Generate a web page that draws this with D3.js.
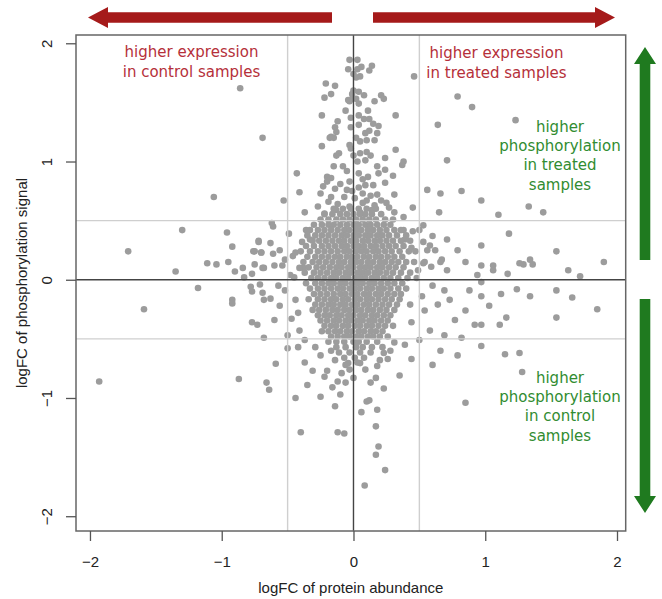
<!DOCTYPE html>
<html>
<head>
<meta charset="utf-8">
<script src="https://cdn.jsdelivr.net/npm/d3@7"></script>
<style>
  html, body { margin: 0; padding: 0; background: #fff; }
  svg { display: block; }
</style>
</head>
<body>
<svg id="chart" width="662" height="599"></svg>
<script>
// ---------------- DATA ----------------
const xTicks = [-2, -1, 0, 1, 2];
const yTicks = [-2, -1, 0, 1, 2];
const xLabel = "logFC of protein abundance";
const yLabel = "logFC of phosphorylation signal";
const cutoffs = [-0.5, 0.5];

const labelControlExpr = ["higher expression", "in control samples"];
const labelTreatedExpr = ["higher expression", "in treated samples"];
const labelTreatedPhos = ["higher", "phosphorylation", "in treated", "samples"];
const labelControlPhos = ["higher", "phosphorylation", "in control", "samples"];

// scattered points [logFC protein, logFC phospho]
const sparsePoints = [
  [-0.86,1.62],[-0.69,1.20],[-1.06,0.70],[-1.71,0.24],[-1.30,0.42],[-1.35,0.07],[-1.59,-0.25],[-1.93,-0.86],
  [-1.18,-0.07],[-1.11,0.14],[-1.04,0.13],[-0.95,0.15],[-0.92,0.28],[-0.96,0.40],[-0.90,0.07],[-0.84,0.10],
  [-0.83,0.02],[-0.77,0.05],[-0.75,0.13],[-0.69,0.10],[-0.76,0.24],[-0.70,0.23],[-0.72,0.32],[-0.92,-0.17],
  [-0.92,-0.20],[-0.78,-0.06],[-0.77,-0.10],[-0.71,-0.04],[-0.69,-0.11],[-0.68,-0.17],[-0.77,-0.36],[-0.73,-0.38],
  [-0.68,-0.49],[-0.87,-0.84],[-0.66,-0.87],[-0.64,-0.93],
  [-0.40,-1.29],[-0.12,-1.29],[-0.07,-1.30],[0.085,-1.74],[0.24,-1.61],[0.17,-1.48],[0.19,-1.41],[0.17,-1.24],
  [0.06,-1.12],[0.10,-1.03],[0.12,-1.02],[0.18,-1.10],[-0.14,-1.07],[-0.25,-0.99],[-0.10,-0.97],[-0.44,-1.00],
  [-0.35,-0.89],[-0.16,-0.91],[-0.12,-0.86],[-0.06,-0.87],[-0.59,-0.71],[0.23,-0.92],[0.13,-0.87],[0.17,-0.83],
  [0.35,-0.81],[0.60,-0.72],[0.44,-0.67],[0.26,-0.67],[0.23,-0.62],[-0.37,-0.70],[-0.31,-0.77],[-0.22,-0.82],
  [-0.20,-0.77],[-0.03,-0.76],[0.00,-0.83],[-0.50,-0.58],[-0.42,-0.57],
  [-0.25,-0.64],[-0.14,-0.68],[0.20,-0.68],[0.28,-0.60],[-0.06,-0.72],[0.09,-0.76],[0.03,-0.70],
  [-0.17,-0.60],[0.18,-0.73],[-0.09,-0.79],[0.31,-0.53],[-0.29,-0.57],
  [-0.03,1.86],[0.03,1.86],[-0.04,1.78],[0.03,1.78],[0.06,1.80],[0.14,1.81],[0.12,1.77],[0.46,1.72],
  [0.00,1.74],[0.02,1.71],[0.05,1.72],[-0.21,1.66],[-0.14,1.64],[-0.17,1.57],[-0.22,1.54],[0.00,1.60],
  [-0.01,1.57],[0.04,1.59],[0.08,1.56],[-0.04,1.52],[-0.01,1.53],[-0.03,1.51],[0.02,1.53],[0.04,1.49],
  [0.21,1.56],[0.23,1.53],[0.16,1.51],[0.11,1.43],[-0.06,1.43],[-0.02,1.37],[0.04,1.39],[0.08,1.36],
  [0.12,1.36],[0.32,1.39],[-0.24,1.39],[-0.12,1.34],[-0.14,1.29],[-0.02,1.29],[0.04,1.31],[0.15,1.32],
  [0.19,1.30],[0.12,1.26],[0.09,1.24],[0.18,1.24],[-0.17,1.21],[-0.13,1.25],[-0.15,1.20],[-0.18,1.20],
  [0.02,1.20],[0.05,1.17],[0.10,1.18],[0.16,1.18],[-0.03,1.14],[-0.02,1.11],[-0.24,1.13],[0.32,1.10],
  [-0.11,1.07],[-0.13,1.05],[0.00,1.05],[0.05,1.07],[0.10,1.08],[0.13,1.05],[0.24,1.03],[0.09,1.01],
  [0.03,1.00],[0.38,1.00],[0.37,0.97],[0.18,0.96],[-0.15,0.96],[-0.08,0.96],[-0.43,0.90],[-0.20,0.87],
  [0.24,0.93],[0.30,0.88],[0.04,0.90],[0.11,0.87],[-0.20,0.83],[-0.03,0.83],[0.09,0.80],[0.24,0.82],
  [-0.23,0.79],[-0.14,0.77],[-0.05,0.76],[-0.41,0.74],[-0.25,0.73],[0.07,0.73],[0.18,0.72],[0.31,0.72],
  [-0.53,0.67],[-0.17,0.70],[0.01,0.69],[0.10,0.67],[0.21,0.67],[0.45,0.61],[-0.37,0.57],[-0.22,0.56],
  [-0.13,0.59],[-0.03,0.62],[0.05,0.57],[0.14,0.59],[0.31,0.57],[0.25,0.65],[0.38,0.53],
  [-0.12,0.64],[0.07,0.65],[-0.19,0.66],[0.16,0.63],[-0.07,0.70],[0.13,0.71],[-0.01,0.75],[0.04,0.78],
  [-0.10,0.81],[0.15,0.80],[-0.17,0.86],[0.07,0.85],[-0.05,0.92],[0.19,0.90],[-0.27,0.62],[0.27,0.61],
  [-0.62,0.48],[-0.61,0.45],[-0.72,0.33],[-0.63,0.31],[-0.75,0.24],[-0.70,0.23],[-0.61,0.22],[-0.56,0.25],
  [-0.68,0.10],[-0.60,0.12],[-0.52,0.17],[-0.49,0.39],[-0.46,0.20],[-0.39,0.32],[-0.36,0.42],[-0.33,0.34],
  [-0.45,0.02],[-0.38,0.10],
  [0.38,0.42],[0.45,0.41],[0.53,0.46],[0.53,0.32],[0.60,0.37],[0.56,0.25],[0.62,0.25],[0.67,0.17],
  [0.59,0.11],[0.53,0.14],[0.71,0.08],
  [0.64,1.31],[0.56,0.76],[0.66,0.73],[0.65,0.57],[0.71,1.01],[0.79,1.55],[0.90,1.46],[1.23,1.35],
  [0.82,0.75],[0.97,0.67],[1.10,0.55],[1.33,0.62],[1.44,0.57],
  [1.18,0.39],[0.97,0.29],[1.54,0.24],[0.97,0.12],[1.06,0.12],[1.06,0.08],[1.17,0.05],[1.26,0.14],
  [1.29,0.13],[1.34,0.17],[1.36,0.13],[1.63,0.08],[1.72,0.03],[1.90,0.15],
  [0.97,-0.02],[0.97,-0.14],[1.03,-0.22],[1.12,-0.12],[1.24,-0.08],[1.34,-0.14],[1.54,-0.09],[1.66,-0.15],
  [1.85,-0.25],[0.97,-0.38],[1.11,-0.38],[1.16,-0.32],[1.54,-0.32],[0.97,-0.56],[1.15,-0.63],[1.26,-0.62],
  [1.28,-0.78],[0.85,-1.04],
  [0.39,0.34],[0.44,0.27],[0.50,0.42],[0.54,0.15],[0.58,0.29],[0.66,0.15],[0.49,0.08],[0.60,-0.05],
  [0.69,-0.09],[0.73,-0.17],[0.64,-0.21],[0.54,-0.26],[0.77,-0.34],[0.85,-0.26],[0.88,-0.09],[0.94,0.04],
  [0.85,0.15],[0.79,0.25],[0.71,0.34],[0.52,-0.14],[0.43,-0.21],[0.44,-0.36],[0.58,-0.43],[0.69,-0.47],
  [0.82,-0.49],[0.92,-0.38],[0.50,-0.51],[0.39,-0.55],[0.66,-0.60],[0.79,-0.64],
  [-0.48,0.04],[-0.52,-0.09],[-0.44,-0.17],[-0.56,-0.22],[-0.47,-0.33],[-0.60,-0.34],[-0.41,-0.43],[-0.50,-0.47],
  [-0.37,-0.51],[-0.42,-0.28],[-0.57,-0.05],[-0.63,-0.16],[-0.54,0.12],[-0.44,0.23],[-0.41,0.10]
];

// dense core, listed row by row: [logFC phospho, [logFC protein values]]
const coreRows = [
  [0.60,  [-0.15,-0.08,-0.02,0.04,0.10,0.17]],
  [0.555, [-0.22,-0.16,-0.10,-0.05,0.00,0.05,0.09,0.14,0.21]],
  [0.51,  [-0.25,-0.19,-0.13,-0.08,-0.03,0.02,0.07,0.12,0.17,0.24,0.30]],
  [0.465, [-0.30,-0.24,-0.19,-0.15,-0.10,-0.05,0.00,0.04,0.09,0.13,0.18,0.23,0.28]],
  [0.42,  [-0.33,-0.27,-0.22,-0.17,-0.12,-0.07,-0.03,0.02,0.06,0.11,0.15,0.20,0.25,0.31,0.36]],
  [0.375, [-0.35,-0.29,-0.24,-0.19,-0.14,-0.09,-0.05,0.00,0.04,0.09,0.13,0.18,0.22,0.27,0.33,0.40]],
  [0.33,  [-0.31,-0.26,-0.21,-0.16,-0.11,-0.07,-0.02,0.02,0.07,0.11,0.16,0.20,0.25,0.30,0.36,0.43]],
  [0.285, [-0.36,-0.30,-0.24,-0.19,-0.14,-0.09,-0.05,0.00,0.04,0.08,0.13,0.17,0.22,0.27,0.32,0.38]],
  [0.24,  [-0.40,-0.33,-0.27,-0.22,-0.17,-0.12,-0.07,-0.03,0.02,0.06,0.10,0.15,0.19,0.24,0.29,0.35,0.42,0.47]],
  [0.195, [-0.35,-0.29,-0.24,-0.19,-0.14,-0.10,-0.05,-0.01,0.03,0.08,0.12,0.17,0.21,0.26,0.31,0.37]],
  [0.15,  [-0.38,-0.31,-0.26,-0.21,-0.16,-0.11,-0.07,-0.02,0.02,0.06,0.11,0.15,0.20,0.24,0.29,0.34,0.40,0.46]],
  [0.105, [-0.34,-0.28,-0.23,-0.18,-0.13,-0.09,-0.04,0.00,0.05,0.09,0.13,0.18,0.22,0.27,0.32,0.38]],
  [0.06,  [-0.37,-0.30,-0.25,-0.20,-0.15,-0.11,-0.06,-0.02,0.03,0.07,0.11,0.16,0.20,0.25,0.30,0.36,0.43]],
  [0.015, [-0.32,-0.27,-0.22,-0.17,-0.13,-0.08,-0.04,0.01,0.05,0.09,0.14,0.18,0.23,0.28,0.34,0.41,0.48]],
  [-0.03, [-0.36,-0.29,-0.24,-0.19,-0.15,-0.10,-0.06,-0.01,0.03,0.07,0.12,0.16,0.21,0.26,0.31,0.37]],
  [-0.075,[-0.33,-0.27,-0.22,-0.17,-0.12,-0.08,-0.03,0.01,0.05,0.10,0.14,0.19,0.23,0.28,0.34,0.40]],
  [-0.12, [-0.30,-0.25,-0.20,-0.15,-0.10,-0.06,-0.01,0.03,0.08,0.12,0.17,0.21,0.26,0.31,0.36]],
  [-0.165,[-0.34,-0.27,-0.22,-0.17,-0.13,-0.08,-0.04,0.01,0.05,0.10,0.14,0.19,0.24,0.29,0.35]],
  [-0.21, [-0.29,-0.24,-0.19,-0.15,-0.10,-0.06,-0.01,0.03,0.08,0.12,0.17,0.22,0.27,0.33]],
  [-0.255,[-0.31,-0.26,-0.21,-0.16,-0.12,-0.07,-0.03,0.02,0.06,0.11,0.15,0.20,0.25,0.31]],
  [-0.30, [-0.27,-0.22,-0.18,-0.13,-0.09,-0.04,0.00,0.05,0.09,0.14,0.18,0.23,0.28]],
  [-0.345,[-0.25,-0.20,-0.15,-0.11,-0.06,-0.02,0.03,0.07,0.12,0.16,0.21,0.26]],
  [-0.39, [-0.22,-0.17,-0.13,-0.08,-0.04,0.01,0.05,0.10,0.14,0.19,0.24,0.30]],
  [-0.435,[-0.24,-0.19,-0.14,-0.10,-0.05,-0.01,0.04,0.08,0.13,0.17,0.22]],
  [-0.48, [-0.17,-0.12,-0.07,-0.03,0.02,0.06,0.11,0.15,0.20,0.26]],
  [-0.525,[-0.19,-0.13,-0.07,0.00,0.04,0.10,0.18]],
  [-0.57, [-0.13,-0.06,0.02,0.07,0.14,0.22]],
  [-0.615,[-0.11,-0.03,0.05,0.13]],
  [-0.66, [-0.07,0.01,0.08]],
  [-0.705,[-0.04,0.05]]
];

// ---------------- CHART ----------------
const svg = d3.select("#chart");
const plot = { left: 76, right: 625.7, top: 35, bottom: 531 };

const x = d3.scaleLinear().domain([-2.106, 2.066]).range([plot.left, plot.right]);
const y = d3.scaleLinear().domain([-2.125, 2.07]).range([plot.bottom, plot.top]);

const points = sparsePoints.map(d => ({ fx: d[0], fy: d[1] }));
coreRows.forEach(r => r[1].forEach(v => points.push({ fx: v, fy: r[0] })));

const fmt = d => (d < 0 ? "\u2212" + Math.abs(d) : String(d));

// points
svg.append("g")
  .selectAll("circle")
  .data(points)
  .join("circle")
  .attr("cx", d => x(d.fx))
  .attr("cy", d => y(d.fy))
  .attr("r", 3.3)
  .attr("fill", "#9c9c9c");

// cutoff lines
const lines = svg.append("g");
cutoffs.forEach(c => {
  lines.append("line")
    .attr("x1", x(c)).attr("x2", x(c))
    .attr("y1", plot.top).attr("y2", plot.bottom)
    .attr("stroke", "#cfcfcf").attr("stroke-width", 1.4);
  lines.append("line")
    .attr("x1", plot.left).attr("x2", plot.right)
    .attr("y1", y(c)).attr("y2", y(c))
    .attr("stroke", "#cfcfcf").attr("stroke-width", 1.4);
});
lines.append("line")
  .attr("x1", x(0)).attr("x2", x(0))
  .attr("y1", plot.top).attr("y2", plot.bottom)
  .attr("stroke", "#444").attr("stroke-width", 1.4);
lines.append("line")
  .attr("x1", plot.left).attr("x2", plot.right)
  .attr("y1", y(0)).attr("y2", y(0))
  .attr("stroke", "#444").attr("stroke-width", 1.4);

// box
svg.append("rect")
  .attr("x", plot.left).attr("y", plot.top)
  .attr("width", plot.right - plot.left).attr("height", plot.bottom - plot.top)
  .attr("fill", "none").attr("stroke", "#666").attr("stroke-width", 1.5);

// axes
const axisFont = "'Liberation Sans', Arial, Helvetica, sans-serif";
const gx = svg.append("g")
  .attr("transform", `translate(0,${plot.bottom})`)
  .call(d3.axisBottom(x).tickValues(xTicks).tickSize(10).tickFormat(fmt));
gx.select(".domain").remove();
gx.selectAll(".tick line").attr("stroke", "#555").attr("stroke-width", 1.3);
gx.selectAll(".tick text")
  .attr("y", 36).attr("dy", null)
  .attr("font-family", axisFont).attr("font-size", 15).attr("fill", "#222");

const gy = svg.append("g")
  .attr("transform", `translate(${plot.left},0)`)
  .call(d3.axisLeft(y).tickValues(yTicks).tickSize(10).tickFormat(fmt));
gy.select(".domain").remove();
gy.selectAll(".tick line").attr("stroke", "#555").attr("stroke-width", 1.3);
gy.selectAll(".tick text")
  .attr("x", null).attr("dy", null)
  .attr("transform", "translate(-24,0) rotate(-90)")
  .attr("text-anchor", "middle")
  .attr("font-family", axisFont).attr("font-size", 15).attr("fill", "#222");

svg.append("text")
  .attr("x", (plot.left + plot.right) / 2).attr("y", 593)
  .attr("text-anchor", "middle")
  .attr("font-family", axisFont).attr("font-size", 15).attr("fill", "#222")
  .text(xLabel);

svg.append("text")
  .attr("transform", `translate(27,${(plot.top + plot.bottom) / 2}) rotate(-90)`)
  .attr("text-anchor", "middle")
  .attr("font-family", axisFont).attr("font-size", 15).attr("fill", "#222")
  .text(yLabel);

// annotations
const annFont = "'DejaVu Sans', sans-serif";
function block(lines, cx, y0, step, color) {
  const t = svg.append("text")
    .attr("text-anchor", "middle")
    .attr("font-family", annFont).attr("font-size", 15)
    .attr("fill", color);
  lines.forEach((s, i) => t.append("tspan").attr("x", cx).attr("y", y0 + i * step).text(s));
}
const red = "#b5303a", green = "#318c31";
block(labelControlExpr, 191.5, 57, 19.5, red);
block(labelTreatedExpr, 496.5, 58, 19.5, red);
block(labelTreatedPhos, 560, 132, 19.2, green);
block(labelControlPhos, 560, 383, 19.2, green);

// arrows
const arrowRed = "#a51a1a", arrowGreen = "#1f7a1f";
function hArrow(tail, tip, cy, headLen, headHalf, shaftHalf, color) {
  const dir = Math.sign(tip - tail);
  const base = tip - dir * headLen;
  const p = d3.path();
  p.moveTo(tail, cy - shaftHalf);
  p.lineTo(base, cy - shaftHalf);
  p.lineTo(base, cy - headHalf);
  p.lineTo(tip, cy);
  p.lineTo(base, cy + headHalf);
  p.lineTo(base, cy + shaftHalf);
  p.lineTo(tail, cy + shaftHalf);
  p.closePath();
  svg.append("path").attr("d", p.toString()).attr("fill", color);
}
function vArrow(tail, tip, cx, headLen, headHalf, shaftHalf, color) {
  const dir = Math.sign(tip - tail);
  const base = tip - dir * headLen;
  const p = d3.path();
  p.moveTo(cx - shaftHalf, tail);
  p.lineTo(cx - shaftHalf, base);
  p.lineTo(cx - headHalf, base);
  p.lineTo(cx, tip);
  p.lineTo(cx + headHalf, base);
  p.lineTo(cx + shaftHalf, base);
  p.lineTo(cx + shaftHalf, tail);
  p.closePath();
  svg.append("path").attr("d", p.toString()).attr("fill", color);
}
hArrow(332, 88, 17.5, 20, 10.5, 5.2, arrowRed);
hArrow(373, 615, 17.5, 20, 10.5, 5.2, arrowRed);
vArrow(260, 47, 645, 17, 11, 5.3, arrowGreen);
vArrow(299, 513, 645, 17, 11, 5.3, arrowGreen);
</script>
</body>
</html>
